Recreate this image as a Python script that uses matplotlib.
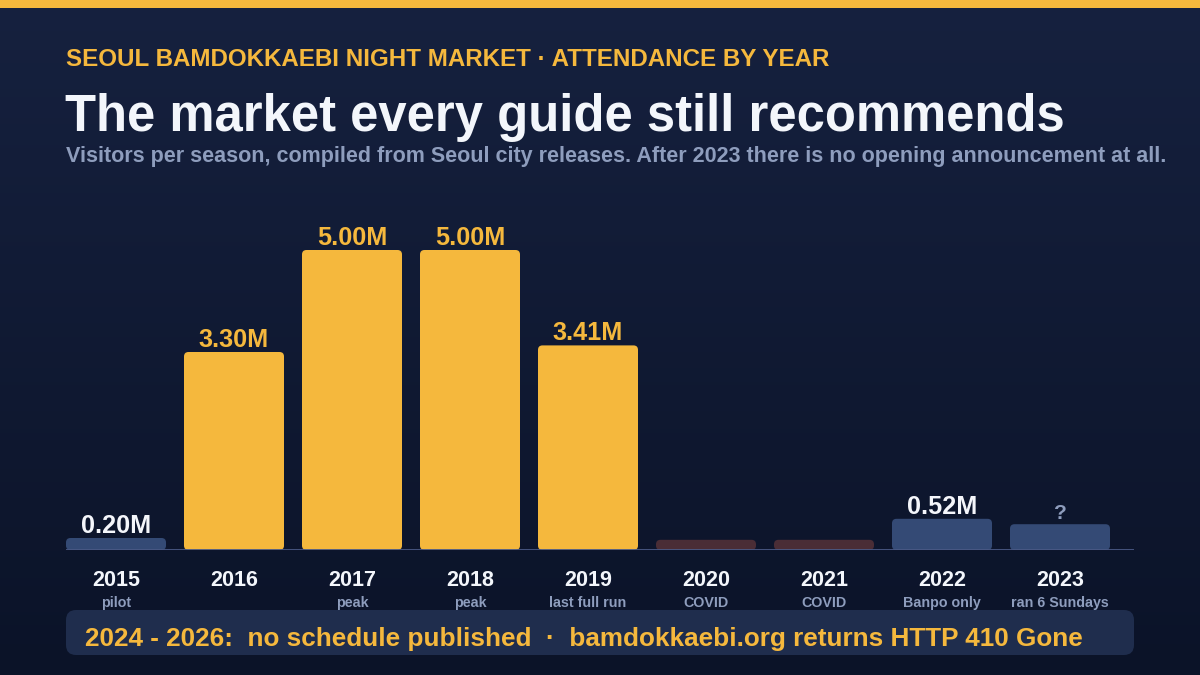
import numpy as np
import matplotlib
matplotlib.use("Agg")
from matplotlib import pyplot as plt
from matplotlib.patches import FancyBboxPatch, Rectangle

plt.rcParams['font.family'] = ['Liberation Sans', 'DejaVu Sans']

# data
years = ["2015", "2016", "2017", "2018", "2019", "2020", "2021", "2022", "2023"]
notes = ["pilot", "", "peak", "peak", "last full run", "COVID", "COVID", "Banpo only", "ran 6 Sundays"]
visitors = [0.20, 3.30, 5.00, 5.00, 3.41, 0.17, 0.17, 0.52, 0.43]  # millions (2020/21 stub, 2023 placeholder)
value_labels = ["0.20M", "3.30M", "5.00M", "5.00M", "3.41M", "", "", "0.52M", "?"]
kinds = ["minor", "main", "main", "main", "main", "covid", "covid", "minor", "minor"]

GOLD = "#f5b83d"
BAR_COLORS = {"main": GOLD, "minor": "#344a75", "covid": "#4a2d36"}
LABEL_COLORS = {"0.20M": "#f4f6fb", "0.52M": "#f4f6fb", "?": "#8e9dbd"}

W, H = 1200, 675
fig = plt.figure(figsize=(12, 6.75), dpi=100)

# background gradient
bg = fig.add_axes([0, 0, 1, 1])
grad = np.linspace(0, 1, 256).reshape(-1, 1)
top = np.array([0x16, 0x21, 0x3f]) / 255
bot = np.array([0x0b, 0x13, 0x28]) / 255
img = top + (bot - top) * grad[:, :, None]
bg.imshow(img, aspect="auto", extent=[0, W, H, 0])
bg.set_xlim(0, W)
bg.set_ylim(H, 0)
bg.axis("off")
bg.add_patch(Rectangle((0, 0), W, 8, color=GOLD, lw=0))

# header text
bg.text(66, 66, "SEOUL BAMDOKKAEBI NIGHT MARKET \u00b7 ATTENDANCE BY YEAR", color=GOLD,
        fontsize=17.4, fontweight="bold", va="baseline")
bg.text(65, 131, "The market every guide still recommends", color="#f3f6fb",
        fontsize=36.5, fontweight="bold", va="baseline")
bg.text(66, 162, "Visitors per season, compiled from Seoul city releases. After 2023 there is no opening announcement at all.",
        color="#8e9dbd", fontsize=15.5, fontweight="bold", va="baseline")

# footer box
bg.add_patch(FancyBboxPatch((66, 610), 1068, 45, boxstyle="round,pad=0,rounding_size=10",
                            fc="#1f2d4d", ec="none"))
bg.text(85, 646, "2024 - 2026:  no schedule published  \u00b7  bamdokkaebi.org returns HTTP 410 Gone",
        color=GOLD, fontsize=18.8, fontweight="bold", va="baseline")

# chart axes: baseline at y=550 px, 60 px per million, 118 px between bars
base_px = 550
top_px = 200
px_per_m = 60
pitch = 118
ax = fig.add_axes([66 / W, (H - base_px) / H, 1068 / W, (base_px - top_px) / H])
ax.set_xlim(-50 / pitch, 1018 / pitch)
ax.set_ylim(0, (base_px - top_px) / px_per_m)
ax.axis("off")

x_per_px = 1 / pitch
y_per_px = 1 / px_per_m
aspect = y_per_px / x_per_px
bar_w = 100 * x_per_px

for i, (v, k) in enumerate(zip(visitors, kinds)):
    h_px = v * px_per_m
    r_px = min(4.5, h_px / 2)
    box = FancyBboxPatch((i - bar_w / 2, 0), bar_w, v,
                         boxstyle=f"round,pad=0,rounding_size={r_px * x_per_px}",
                         mutation_aspect=aspect, fc=BAR_COLORS[k], ec="none")
    ax.add_patch(box)
    lab = value_labels[i]
    if lab:
        col = LABEL_COLORS.get(lab, GOLD)
        ax.text(i, v + 5 * y_per_px, lab, ha="center", va="baseline", color=col,
                fontsize=18.2 if lab != "?" else 15, fontweight="bold")

ax.axhline(0, color="#4a5985", lw=2, zorder=3)

for i, (yr, note) in enumerate(zip(years, notes)):
    ax.text(i, -36 * y_per_px, yr, ha="center", va="baseline", color="#f3f6fb",
            fontsize=15.5, fontweight="bold", clip_on=False)
    if note:
        ax.text(i, -57 * y_per_px, note, ha="center", va="baseline", color="#8e9dbd",
                fontsize=10.3, fontweight="bold", clip_on=False)

plt.savefig("out.png", dpi=100, facecolor=fig.get_facecolor())
plt.close()
